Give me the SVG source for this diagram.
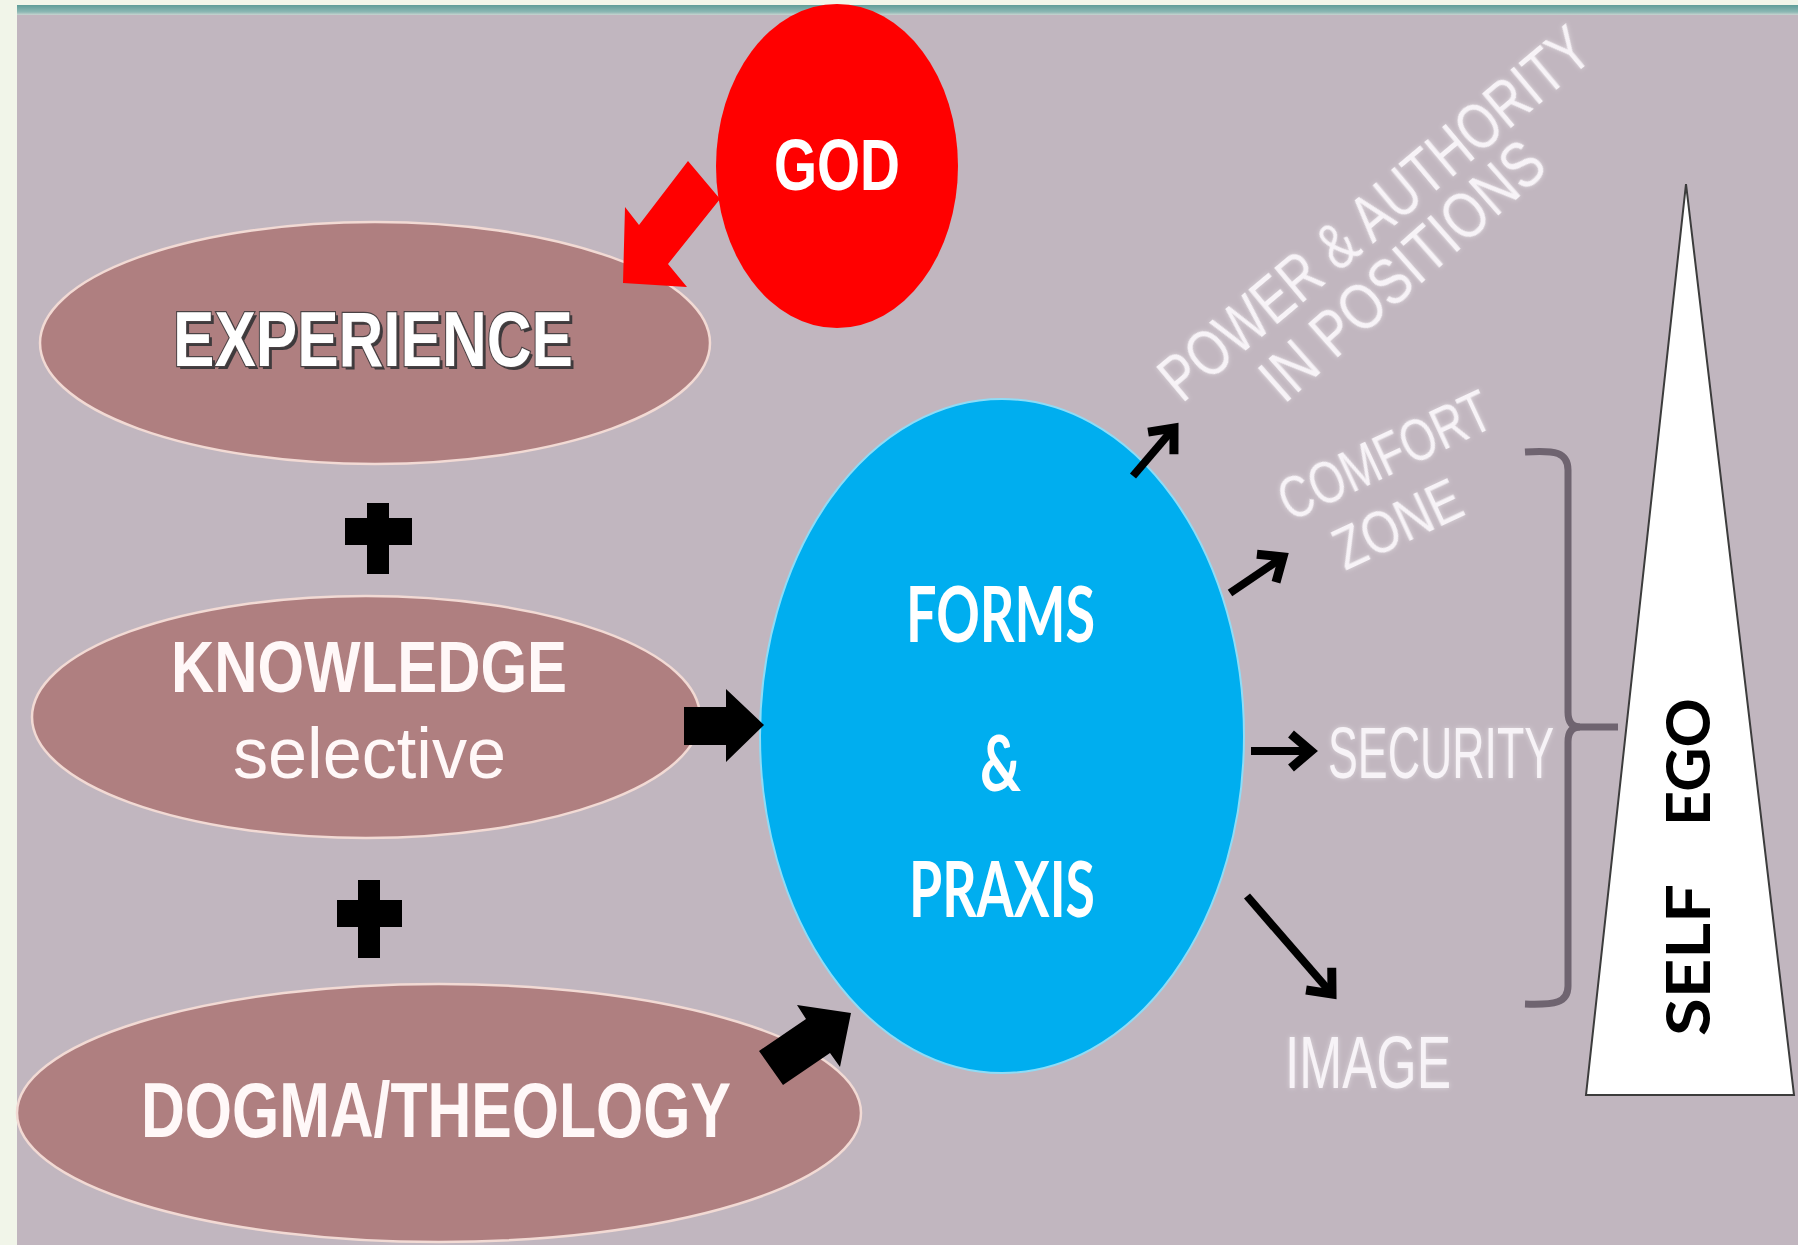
<svg xmlns="http://www.w3.org/2000/svg" width="1798" height="1245" viewBox="0 0 1798 1245">
  <defs>
    <linearGradient id="topband" x1="0" y1="0" x2="0" y2="1">
      <stop offset="0" stop-color="#5E9C98"/>
      <stop offset="0.7" stop-color="#8DB8B4"/>
      <stop offset="1" stop-color="#C9D4D0"/>
    </linearGradient>
    <filter id="glow" x="-10%" y="-30%" width="120%" height="160%">
      <feGaussianBlur in="SourceAlpha" stdDeviation="2.5" result="b"/>
      <feFlood flood-color="#FFFFFF" flood-opacity="0.45"/>
      <feComposite in2="b" operator="in" result="g"/>
      <feMerge><feMergeNode in="g"/><feMergeNode in="SourceGraphic"/></feMerge>
    </filter>
    <marker id="chev" markerUnits="userSpaceOnUse" markerWidth="50" markerHeight="50" viewBox="-30 -25 50 50" refX="0" refY="0" orient="auto">
      <path d="M-20,-17 L0,0 L-20,17" fill="none" stroke="#000" stroke-width="9" stroke-linejoin="miter" stroke-linecap="butt"/>
    </marker>
    <style>
      .rose { fill: #AF7F80; stroke: #F2DAD4; stroke-width: 2.5; }
      .bold { font-family: "Liberation Sans", Arial, sans-serif; font-weight: bold; }
      .reg { font-family: "Liberation Sans", Arial, sans-serif; }
      .cal { font-family: Lato, "Open Sans", sans-serif; font-weight: bold; }
      .wt { fill: #FFF8F8; }
      .lbl { fill: #F7F3F7; filter: url(#glow); }
      .thin { stroke: #000; stroke-width: 8; fill: none; marker-end: url(#chev); }
      .blk { fill: #000; }
    </style>
  </defs>

  <!-- background -->
  <rect x="0" y="0" width="1798" height="1245" fill="#F1F5E9"/>
  <rect x="17" y="5" width="1781" height="10" fill="url(#topband)"/>
  <rect x="17" y="15" width="1781" height="1230" fill="#C1B6BF"/>

  <g id="god">
    <ellipse cx="837" cy="166" rx="121" ry="162" fill="#FF0000"/>
    <text class="bold" x="774" y="190" font-size="72" fill="#FFFFFF" textLength="126" lengthAdjust="spacingAndGlyphs">GOD</text>
  </g>

  <g id="experience">
    <ellipse class="rose" cx="375" cy="343" rx="335" ry="121"/>
    <text class="bold" x="176" y="369" font-size="78" fill="#3E3A3C" textLength="400" lengthAdjust="spacingAndGlyphs">EXPERIENCE</text>
    <text class="bold" x="173" y="366" font-size="78" fill="#FFFFFF" stroke="#4A4244" stroke-width="2.5" paint-order="stroke" textLength="400" lengthAdjust="spacingAndGlyphs">EXPERIENCE</text>
  </g>

  <g id="knowledge">
    <ellipse class="rose" cx="366" cy="717" rx="334" ry="121"/>
    <text class="bold wt" x="171" y="692" font-size="72" textLength="396" lengthAdjust="spacingAndGlyphs">KNOWLEDGE</text>
    <text class="reg wt" x="233" y="778" font-size="72" textLength="273" lengthAdjust="spacingAndGlyphs">selective</text>
  </g>

  <g id="dogma">
    <ellipse class="rose" cx="439" cy="1113" rx="422" ry="129"/>
    <text class="bold wt" x="141" y="1137" font-size="78" textLength="590" lengthAdjust="spacingAndGlyphs">DOGMA/THEOLOGY</text>
  </g>

  <g id="forms-praxis">
    <ellipse cx="1002" cy="736" rx="242" ry="337" fill="#00AEEF" stroke="#8FDCF6" stroke-width="2"/>
    <text class="cal" x="906" y="642" font-size="76" fill="#FFFFFF" textLength="189" lengthAdjust="spacingAndGlyphs">FORMS</text>
    <text class="cal" x="980" y="791" font-size="76" fill="#FFFFFF" textLength="41" lengthAdjust="spacingAndGlyphs">&amp;</text>
    <text class="cal" x="909" y="917" font-size="76" fill="#FFFFFF" textLength="186" lengthAdjust="spacingAndGlyphs">PRAXIS</text>
  </g>

  <g id="power-authority">
    <text class="reg lbl" font-size="64" transform="translate(1182,404) rotate(-40)" textLength="540" lengthAdjust="spacingAndGlyphs">POWER &amp; AUTHORITY</text>
    <text class="reg lbl" font-size="64" transform="translate(1284,405) rotate(-41.5)" textLength="355" lengthAdjust="spacingAndGlyphs">IN POSITIONS</text>
  </g>

  <g id="comfort-zone">
    <text class="reg lbl" font-size="60" transform="translate(1290,522) rotate(-25)" textLength="228" lengthAdjust="spacingAndGlyphs">COMFORT</text>
    <text class="reg lbl" font-size="60" transform="translate(1345,571) rotate(-25)" textLength="135" lengthAdjust="spacingAndGlyphs">ZONE</text>
  </g>

  <g id="security">
    <text class="reg lbl" x="1328" y="778" font-size="72" textLength="226" lengthAdjust="spacingAndGlyphs">SECURITY</text>
  </g>

  <g id="image">
    <text class="reg lbl" x="1285" y="1088" font-size="74" textLength="166" lengthAdjust="spacingAndGlyphs">IMAGE</text>
  </g>

  <g id="bracket">
    <path d="M1525,452 C1555,450 1568,452 1568,470 L1568,712 Q1568,727 1580,727 Q1568,727 1568,742 L1568,986 C1568,1003 1555,1005 1525,1004" fill="none" stroke="#6F6470" stroke-width="7"/>
    <line x1="1576" y1="727" x2="1618" y2="727" stroke="#6F6470" stroke-width="7"/>
  </g>

  <g id="self-ego">
    <polygon points="1686,184 1586,1095 1794,1095" fill="#FFFFFF" stroke="#3C3C3C" stroke-width="2"/>
    <text class="cal" font-size="62" fill="#000" transform="translate(1710,1036) rotate(-90)" textLength="152" lengthAdjust="spacingAndGlyphs">SELF</text>
    <text class="cal" font-size="62" fill="#000" transform="translate(1710,826) rotate(-90)" textLength="128" lengthAdjust="spacingAndGlyphs">EGO</text>
  </g>

  <!-- plus signs -->
  <g id="plus-signs" class="blk">
    <path d="M367,503 H389 V518 H412 V545 H389 V574 H367 V545 H345 V518 H367 Z"/>
    <path d="M358,880 H380 V900 H402 V927 H380 V958 H358 V927 H337 V900 H358 Z"/>
  </g>

  <!-- connectors -->
  <g id="connectors">
    <polygon id="god-to-experience" points="623,283 625,207 639,225 688,161 720,199 668,264 687,287" fill="#FF0000"/>
    <polygon id="knowledge-to-forms" class="blk" points="684,707 726,707 726,689 764,725 726,762 726,745 684,745"/>
    <polygon id="dogma-to-forms" class="blk" points="759,1051 806,1019 797,1005 851,1013 840,1067 830,1053 783,1085"/>
    <line id="to-power" class="thin" x1="1133" y1="476" x2="1174" y2="428"/>
    <line id="to-comfort" class="thin" x1="1230" y1="593" x2="1283" y2="557"/>
    <line id="to-security" class="thin" x1="1251" y1="751" x2="1311" y2="751"/>
    <line id="to-image" class="thin" x1="1247" y1="896" x2="1332" y2="994"/>
  </g>
</svg>
